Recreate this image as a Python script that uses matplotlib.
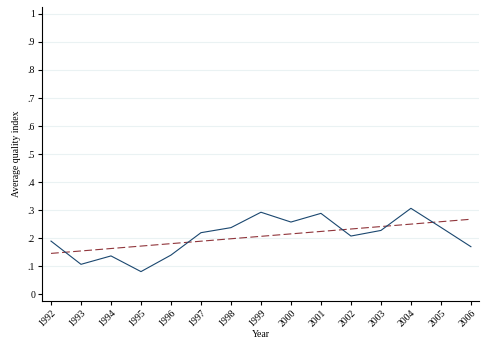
import matplotlib
matplotlib.use("Agg")
import matplotlib.pyplot as plt

# values
years = list(range(1992, 2007))
quality = [0.189, 0.106, 0.136, 0.080, 0.139, 0.219, 0.237, 0.292,
           0.257, 0.288, 0.207, 0.227, 0.306, 0.238, 0.169]
trend_years = [1992, 2006]
trend_vals = [0.145, 0.267]

ytick_vals = [i / 10 for i in range(11)]
ytick_labels = ["0", ".1", ".2", ".3", ".4", ".5", ".6", ".7", ".8", ".9", "1"]

plt.rcParams['font.family'] = ['Liberation Serif', 'DejaVu Serif']

fig = plt.figure(figsize=(4.93, 3.45), dpi=100)
ax = fig.add_axes([42 / 493, 1 - 301 / 345, (479 - 42) / 493, (301 - 7) / 345])

# grid lines (Stata style)
for v in ytick_vals[1:]:
    ax.axhline(v, color='#eaf2f3', lw=0.8, zorder=0)

ax.plot(years, quality, color='#1a476f', lw=0.8, zorder=3)
ax.plot(trend_years, trend_vals, color='#90353b', lw=0.8,
        dashes=(7, 3), zorder=2)

ax.set_xlim(1991.7, 2006.27)
ax.set_ylim(-0.025, 1.025)

ax.set_yticks(ytick_vals)
ax.set_yticklabels(ytick_labels, fontsize=7)
ax.set_xticks(years)
ax.set_xticklabels([str(y) for y in years], fontsize=7, rotation=45,
                   ha='right', va='top', rotation_mode='anchor')
ax.tick_params(axis='both', length=3, width=0.8, pad=2)

for s in ['top', 'right']:
    ax.spines[s].set_visible(False)
for s in ['left', 'bottom']:
    ax.spines[s].set_linewidth(0.8)

ax.set_xlabel("Year", fontsize=7, labelpad=1)
ax.set_ylabel("Average quality index", fontsize=7, labelpad=5)

fig.savefig("out.png", dpi=100)
